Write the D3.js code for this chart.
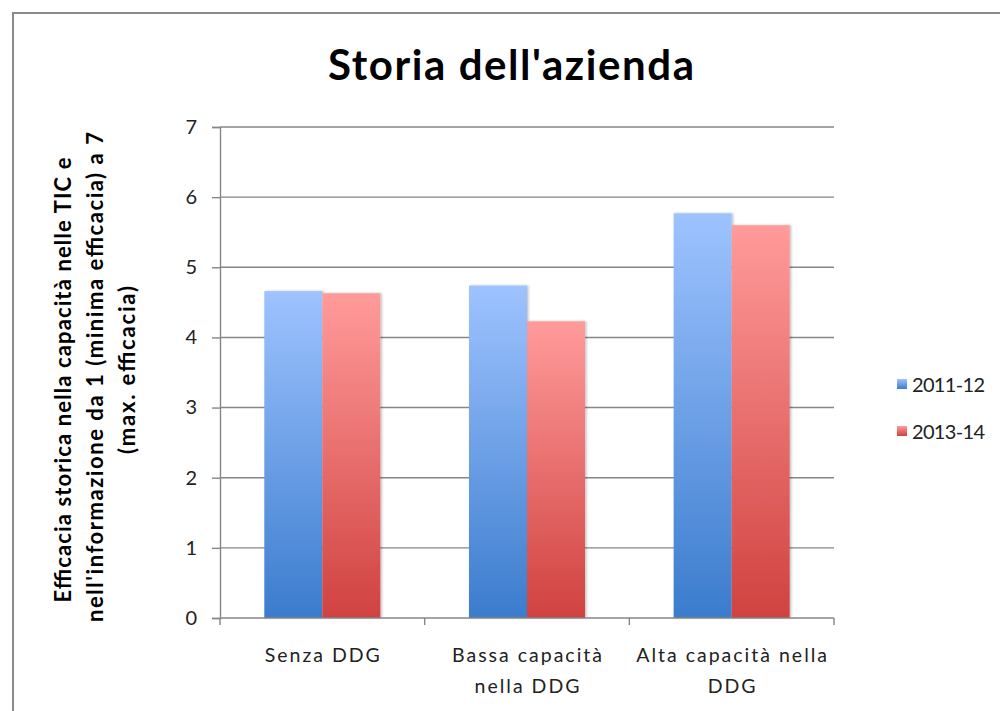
<!DOCTYPE html>
<html>
<head>
<meta charset="utf-8">
<script src="https://cdn.jsdelivr.net/npm/d3@7"></script>
<style>
  html, body { margin: 0; padding: 0; background: #fff; }
  svg { display: block; }
</style>
</head>
<body>
<svg id="chart" width="1000" height="711"></svg>
<script>
// ---- data ----
const categories = [["Senza DDG"], ["Bassa capacità", "nella DDG"], ["Alta capacità nella", "DDG"]];
const series = ["2011-12", "2013-14"];
const values2011 = [4.66, 4.74, 5.77];
const values2013 = [4.63, 4.23, 5.60];
const yTicks = [0, 1, 2, 3, 4, 5, 6, 7];
const titleText = "Storia dell'azienda";
const yLabelLines = [
  "Efficacia  storica nella capacità  nelle TIC e",
  "nell'informazione da 1 (minima efficacia) a 7",
  "(max. efficacia)"
];

const svg = d3.select("#chart");
const font = "Lato, 'Open Sans', sans-serif";

const defs = svg.append("defs");
const grads = [
  { id: "gBlue", top: "#9ec3ff", bottom: "#3b7ccd" },
  { id: "gRed", top: "#ff9b9a", bottom: "#d04240" }
];
grads.forEach(g => {
  const lg = defs.append("linearGradient").attr("id", g.id)
    .attr("x1", 0).attr("y1", 0).attr("x2", 0).attr("y2", 1);
  lg.append("stop").attr("offset", "0%").attr("stop-color", g.top);
  lg.append("stop").attr("offset", "100%").attr("stop-color", g.bottom);
});
const f = defs.append("filter").attr("id", "shadow")
  .attr("x", "-20%").attr("y", "-5%").attr("width", "140%").attr("height", "110%");
f.append("feDropShadow").attr("dx", 1.5).attr("dy", 0).attr("stdDeviation", 1.2)
  .attr("flood-color", "#000").attr("flood-opacity", 0.25);

// frame
svg.append("rect").attr("x", 13).attr("y", 13).attr("width", 1010).attr("height", 720)
  .attr("fill", "#fff").attr("stroke", "#8a8a8a").attr("stroke-width", 2);

// scales
const x0 = d3.scaleBand().domain(d3.range(categories.length)).range([220, 834])
  .paddingInner(0.433).paddingOuter(0.2165);
const x1 = d3.scaleBand().domain(series).range([0, x0.bandwidth()]);
const y = d3.scaleLinear().domain([0, 7]).range([618, 127]);

// gridlines
svg.append("g").selectAll("line").data(yTicks.filter(d => d > 0)).join("line")
  .attr("x1", 220).attr("x2", 834)
  .attr("y1", d => y(d)).attr("y2", d => y(d))
  .attr("stroke", "#868686").attr("stroke-width", 1.4);

// y axis
const yAxis = d3.axisLeft(y).tickValues(yTicks).tickSize(8).tickPadding(15).tickFormat(d3.format("d"));
const gy = svg.append("g").attr("transform", "translate(220,0)").call(yAxis);
gy.select(".domain").attr("stroke", "#868686").attr("stroke-width", 1.4);
gy.selectAll(".tick line").attr("stroke", "#868686").attr("stroke-width", 1.4);
gy.selectAll(".tick text").attr("font-family", font).attr("font-size", 20).attr("fill", "#222");

// bars
const data = categories.map((c, i) => ({ i, vals: [values2011[i], values2013[i]] }));
const groups = svg.append("g").selectAll("g").data(data).join("g")
  .attr("transform", d => `translate(${x0(d.i)},0)`);
groups.selectAll("rect").data(d => d.vals.map((v, k) => ({ s: series[k], v, k }))).join("rect")
  .attr("x", d => x1(d.s)).attr("width", x1.bandwidth())
  .attr("y", d => y(d.v)).attr("height", d => y(0) - y(d.v))
  .attr("fill", d => d.k === 0 ? "url(#gBlue)" : "url(#gRed)")
  .attr("filter", "url(#shadow)");

// x axis
const xEdges = [0, 1, 2, 3].map(i => 220 + i * (834 - 220) / 3);
svg.append("line").attr("x1", 220).attr("x2", 834).attr("y1", y(0)).attr("y2", y(0))
  .attr("stroke", "#868686").attr("stroke-width", 1.4);
svg.append("g").selectAll("line").data(xEdges).join("line")
  .attr("x1", d => d).attr("x2", d => d).attr("y1", y(0)).attr("y2", y(0) + 7)
  .attr("stroke", "#868686").attr("stroke-width", 1.4);

// x labels
const xl = svg.append("g").selectAll("text").data(categories).join("text")
  .attr("font-family", font).attr("font-size", 19.5).attr("fill", "#222")
  .attr("letter-spacing", 2).attr("text-anchor", "middle");
xl.each(function(lines, i) {
  const cx = x0(i) + x0.bandwidth() / 2 + 1;
  d3.select(this).selectAll("tspan").data(lines).join("tspan")
    .attr("x", cx).attr("y", (d, j) => 662 + j * 31).text(d => d);
});

// title
svg.append("text").attr("x", 511).attr("y", 80).attr("text-anchor", "middle")
  .attr("font-family", font).attr("font-weight", "bold").attr("font-size", 42)
  .attr("textLength", 366).attr("lengthAdjust", "spacing")
  .attr("fill", "#000").text(titleText);

// y label
const yLens = [445, 490, 168];
const yCenters = [380, 377, 370];
const ylab = svg.append("g");
yLabelLines.forEach((t, i) => {
  ylab.append("text")
    .attr("transform", `translate(${71 + i * 32},${yCenters[i]}) rotate(-90)`)
    .attr("text-anchor", "middle")
    .attr("font-family", font).attr("font-weight", "bold").attr("font-size", 22)
    .attr("textLength", yLens[i]).attr("lengthAdjust", "spacing")
    .attr("fill", "#000").text(t);
});

// legend
const leg = svg.append("g").selectAll("g").data(series).join("g")
  .attr("transform", (d, i) => `translate(897,${379 + i * 47})`);
leg.append("rect").attr("width", 10).attr("height", 10)
  .attr("fill", (d, i) => i === 0 ? "url(#gBlue)" : "url(#gRed)");
leg.append("text").attr("x", 15).attr("y", 13)
  .attr("font-family", font).attr("font-size", 20).attr("fill", "#222")
  .attr("textLength", 73).attr("lengthAdjust", "spacing").text(d => d);
</script>
</body>
</html>
